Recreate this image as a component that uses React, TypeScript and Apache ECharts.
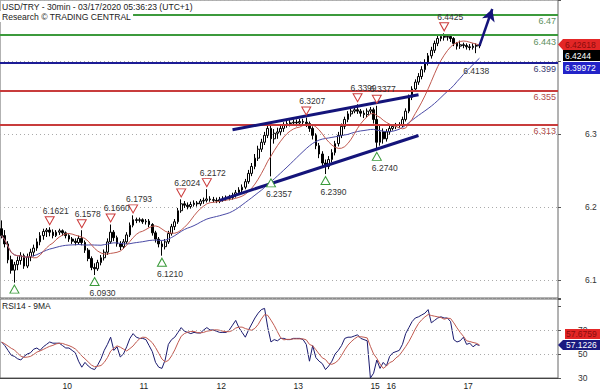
import { useEffect, useRef } from 'react';
import * as echarts from 'echarts';

const FONT = '"Liberation Sans", Arial, sans-serif';

// time axis: hourly slots
const dayLabels = ['9', '10', '11', '12', '13', '15', '16', '17'];
const dayStartHours = [5, 0, 0, 0, 0, 19, 0, 0];
const dayBarCounts = [19, 24, 24, 24, 24, 5, 24, 6];
const futureSlots = 24;

// [open, close, low, high]
const candles: number[][] = [
  [6.160, 6.150, 6.146, 6.172], [6.150, 6.138, 6.133, 6.158], [6.138, 6.115, 6.110, 6.142], [6.115, 6.100, 6.095, 6.121],
  [6.100, 6.108, 6.082, 6.112], [6.108, 6.114, 6.100, 6.120], [6.114, 6.121, 6.108, 6.126], [6.121, 6.106, 6.102, 6.124],
  [6.106, 6.119, 6.103, 6.124], [6.119, 6.126, 6.113, 6.131], [6.126, 6.132, 6.120, 6.137], [6.132, 6.141, 6.128, 6.146],
  [6.141, 6.150, 6.136, 6.155], [6.150, 6.156, 6.144, 6.160], [6.156, 6.158, 6.148, 6.161], [6.158, 6.155, 6.149, 6.1621],
  [6.155, 6.150, 6.146, 6.159], [6.150, 6.155, 6.148, 6.158], [6.155, 6.157, 6.151, 6.160], [6.157, 6.154, 6.150, 6.159],
  [6.154, 6.150, 6.146, 6.156], [6.150, 6.145, 6.141, 6.152], [6.145, 6.142, 6.138, 6.148], [6.142, 6.140, 6.136, 6.146],
  [6.140, 6.146, 6.137, 6.150], [6.146, 6.140, 6.136, 6.1578], [6.140, 6.129, 6.125, 6.143], [6.129, 6.117, 6.113, 6.132],
  [6.117, 6.104, 6.100, 6.120], [6.104, 6.102, 6.093, 6.110], [6.102, 6.111, 6.099, 6.115], [6.111, 6.118, 6.107, 6.122],
  [6.118, 6.126, 6.114, 6.130], [6.126, 6.141, 6.122, 6.146], [6.141, 6.155, 6.138, 6.166], [6.155, 6.147, 6.142, 6.158],
  [6.147, 6.138, 6.134, 6.150], [6.138, 6.134, 6.129, 6.142], [6.134, 6.141, 6.131, 6.145], [6.141, 6.151, 6.138, 6.155],
  [6.151, 6.165, 6.148, 6.169], [6.165, 6.173, 6.162, 6.1793], [6.173, 6.172, 6.168, 6.176], [6.172, 6.173, 6.169, 6.176],
  [6.173, 6.170, 6.167, 6.175], [6.170, 6.171, 6.166, 6.174], [6.171, 6.166, 6.162, 6.174], [6.166, 6.154, 6.150, 6.168],
  [6.154, 6.145, 6.140, 6.157], [6.145, 6.138, 6.133, 6.148], [6.138, 6.134, 6.121, 6.142], [6.134, 6.141, 6.130, 6.145],
  [6.141, 6.153, 6.138, 6.157], [6.153, 6.163, 6.150, 6.167], [6.163, 6.170, 6.158, 6.174], [6.170, 6.186, 6.167, 6.190],
  [6.186, 6.196, 6.183, 6.2024], [6.196, 6.194, 6.190, 6.200], [6.194, 6.192, 6.188, 6.198], [6.192, 6.195, 6.189, 6.199],
  [6.195, 6.197, 6.192, 6.201], [6.197, 6.196, 6.192, 6.200], [6.196, 6.200, 6.193, 6.203], [6.200, 6.201, 6.196, 6.205],
  [6.201, 6.203, 6.198, 6.2172], [6.203, 6.202, 6.199, 6.207], [6.202, 6.201, 6.198, 6.206], [6.201, 6.200, 6.197, 6.205],
  [6.200, 6.202, 6.197, 6.206], [6.202, 6.203, 6.199, 6.207], [6.203, 6.204, 6.200, 6.208], [6.204, 6.205, 6.201, 6.209],
  [6.205, 6.208, 6.202, 6.212], [6.208, 6.212, 6.205, 6.216], [6.212, 6.216, 6.209, 6.220], [6.216, 6.220, 6.213, 6.224],
  [6.220, 6.228, 6.217, 6.232], [6.228, 6.240, 6.225, 6.245], [6.240, 6.250, 6.236, 6.255], [6.250, 6.262, 6.246, 6.268],
  [6.262, 6.275, 6.258, 6.280], [6.275, 6.285, 6.271, 6.290], [6.285, 6.295, 6.281, 6.300], [6.295, 6.305, 6.291, 6.310],
  [6.305, 6.290, 6.2357, 6.312], [6.290, 6.298, 6.283, 6.304], [6.298, 6.300, 6.290, 6.306], [6.300, 6.305, 6.295, 6.310],
  [6.305, 6.310, 6.300, 6.314], [6.310, 6.312, 6.306, 6.316], [6.312, 6.313, 6.308, 6.317], [6.313, 6.314, 6.309, 6.318],
  [6.314, 6.313, 6.308, 6.318], [6.313, 6.315, 6.309, 6.319], [6.315, 6.314, 6.309, 6.319], [6.314, 6.312, 6.307, 6.3207],
  [6.312, 6.305, 6.300, 6.315], [6.305, 6.295, 6.289, 6.308], [6.295, 6.280, 6.275, 6.298], [6.280, 6.268, 6.262, 6.284],
  [6.268, 6.255, 6.248, 6.272], [6.255, 6.250, 6.239, 6.260], [6.250, 6.260, 6.246, 6.265], [6.260, 6.270, 6.256, 6.275],
  [6.270, 6.283, 6.266, 6.287], [6.283, 6.295, 6.279, 6.300], [6.295, 6.308, 6.291, 6.312], [6.308, 6.318, 6.304, 6.322],
  [6.318, 6.326, 6.314, 6.330], [6.326, 6.330, 6.322, 6.334], [6.330, 6.332, 6.327, 6.336], [6.332, 6.330, 6.326, 6.3399],
  [6.330, 6.327, 6.322, 6.333], [6.327, 6.325, 6.320, 6.331], [6.325, 6.330, 6.321, 6.334], [6.330, 6.332, 6.326, 6.336],
  [6.332, 6.318, 6.312, 6.335], [6.318, 6.285, 6.274, 6.3377], [6.285, 6.300, 6.280, 6.310], [6.300, 6.290, 6.283, 6.305],
  [6.290, 6.300, 6.286, 6.304], [6.300, 6.305, 6.296, 6.309], [6.305, 6.308, 6.302, 6.311], [6.308, 6.310, 6.304, 6.313],
  [6.310, 6.310, 6.306, 6.314], [6.310, 6.318, 6.307, 6.322], [6.318, 6.330, 6.315, 6.334], [6.330, 6.350, 6.327, 6.354],
  [6.350, 6.362, 6.346, 6.366], [6.362, 6.372, 6.358, 6.376], [6.372, 6.380, 6.368, 6.385], [6.380, 6.390, 6.376, 6.395],
  [6.390, 6.400, 6.386, 6.405], [6.400, 6.410, 6.396, 6.414], [6.410, 6.418, 6.406, 6.423], [6.418, 6.428, 6.414, 6.432],
  [6.428, 6.435, 6.424, 6.439], [6.435, 6.438, 6.431, 6.441], [6.438, 6.437, 6.432, 6.4425], [6.437, 6.438, 6.432, 6.441],
  [6.438, 6.435, 6.430, 6.440], [6.435, 6.428, 6.424, 6.437], [6.428, 6.424, 6.419, 6.430], [6.424, 6.426, 6.420, 6.432],
  [6.426, 6.425, 6.421, 6.429], [6.425, 6.423, 6.419, 6.428], [6.423, 6.422, 6.418, 6.427], [6.422, 6.424, 6.419, 6.428],
  [6.424, 6.425, 6.4138, 6.428], [6.425, 6.4244, 6.421, 6.427],
];

const rsi14: number[] = [
  60, 57, 53, 49, 48, 46, 45, 48, 50, 51, 54, 55, 53, 56, 58, 60, 59, 59, 59, 57,
  55, 55, 53, 51, 44, 39, 43, 40, 38, 37, 41, 46, 53, 58, 64, 53, 56, 47.5, 50, 56,
  63, 67, 64, 63, 63, 62, 57, 52, 43, 39, 38, 45, 58, 62, 64, 68, 72, 69, 68, 67,
  68, 67.5, 67.5, 70, 72, 70, 70, 69, 68, 68, 68, 70, 74, 78, 72, 68, 64, 70, 75, 80,
  84, 87, 88, 72, 60, 62, 61, 63, 63, 62, 62, 63, 63, 63, 62, 58, 44, 57, 47, 44,
  42, 37, 40, 44, 50, 53, 57, 63, 64, 64, 65, 66, 63, 62, 61, 30, 34, 45, 38, 43,
  40, 48, 51, 52, 53, 58, 67, 72, 77, 80, 81, 82.5, 84, 87, 76, 78, 80, 81, 80, 80,
  77, 62, 60, 61, 64, 58, 59, 56, 58, 57.1226,
];

const levelValues = [6.47, 6.443, 6.399, 6.355, 6.313];
const levelLabels = ['6.47', '6.443', '6.399', '6.355', '6.313'];
const highMarks = [15, 25, 34, 41, 56, 64, 95, 111, 117, 138];
const lowMarks = [4, 29, 50, 84, 101, 117];
const lowMarksNoLabel = [4];
const lowLabelOnly = [148];
const upperTrend = [[72, 6.3031], [130, 6.3538]];
const lowerTrend = [[68, 6.2010], [130, 6.2947]];
const arrowTarget = [153, 6.4777];
const fastMaLast = 6.42618;
const slowMaLast = 6.39972;
const rsiMaLast = 57.6759;
const FAST_MA = 10;
const SLOW_MA = 25;
const RSI_MA = 5;

function sma(arr: number[], n: number) {
  return arr.map((_, i) => {
    const s = Math.max(0, i - n + 1);
    let t = 0;
    for (let k = s; k <= i; k++) t += arr[k];
    return +(t / (i - s + 1)).toFixed(5);
  });
}

const categories: string[] = [];
const dayStarts = new Set<number>();
dayLabels.forEach((d, di) => {
  if (di > 0) dayStarts.add(categories.length);
  for (let h = 0; h < dayBarCounts[di]; h++) categories.push(`${d} ${dayStartHours[di] + h}:00`);
});
for (let k = 0; k < futureSlots; k++) categories.push(`f${k}`);

const DOWN = 'path://M0,0L10,0L5,9Z';
const UP = 'path://M5,0L10,9L0,9Z';

export default function App() {
  const ref = useRef<HTMLDivElement>(null);
  useEffect(() => {
    if (!ref.current) return;
    const chart = echarts.init(ref.current, null, { renderer: 'svg' });
    const closes = candles.map((c) => c[1]);
    const levelColors = ['#3c9a3c', '#3c9a3c', '#1c1c96', '#c83c3c', '#c83c3c'];
    const levelText = ['#5d8f5d', '#5d8f5d', '#3c3c70', '#b04c4c', '#b04c4c'];
    const trendStyle = { color: '#14147a', width: 3, type: 'solid' };
    const labelCommon = { fontSize: 8.5, color: '#333', fontFamily: FONT };

    const markLines: any[] = levelValues.map((v, i) => ({
      yAxis: v,
      lineStyle: { color: levelColors[i], width: 2, type: 'solid' },
      label: {
        show: true, position: 'insideEndBottom', formatter: levelLabels[i],
        color: levelText[i], fontSize: 9, fontFamily: FONT, distance: [2, 2],
      },
    }));
    [upperTrend, lowerTrend].forEach((t) => {
      markLines.push([
        { coord: t[0], symbol: 'none', lineStyle: trendStyle, label: { show: false } },
        { coord: t[1], symbol: 'none', lineStyle: trendStyle, label: { show: false } },
      ]);
    });
    const last = candles.length - 1;
    const arrowStyle = { color: '#14147a', width: 2.5, type: 'solid', curveness: -0.3 };
    markLines.push([
      { coord: [last, candles[last][1]], symbol: 'none', lineStyle: arrowStyle, label: { show: false } },
      { coord: arrowTarget, symbol: 'arrow', symbolSize: [10, 12], lineStyle: arrowStyle, label: { show: false } },
    ]);

    const markPoints: any[] = [];
    highMarks.forEach((i) => {
      markPoints.push({
        coord: [i, candles[i][3]], symbol: DOWN, symbolSize: [9, 8], symbolOffset: [0, -6.5],
        itemStyle: { color: '#fff', borderColor: '#cc3c3c', borderWidth: 1 },
        label: { show: true, position: 'top', distance: 1, offset: [6, 0], formatter: candles[i][3].toFixed(4), ...labelCommon },
      });
    });
    lowMarks.forEach((i) => {
      markPoints.push({
        coord: [i, candles[i][2]], symbol: UP, symbolSize: [9, 8], symbolOffset: [0, 6.5],
        itemStyle: { color: '#fff', borderColor: '#3a9a3a', borderWidth: 1 },
        label: { show: !lowMarksNoLabel.includes(i), position: 'bottom', distance: 2.5, offset: [8, 0], formatter: candles[i][2].toFixed(4), ...labelCommon },
      });
    });
    lowLabelOnly.forEach((i) => {
      markPoints.push({
        coord: [i, candles[i][2]], symbol: UP, symbolSize: [9, 8], symbolOffset: [0, 6.5],
        itemStyle: { color: 'rgba(0,0,0,0)', borderColor: 'rgba(0,0,0,0)', borderWidth: 0 },
        label: { show: true, position: 'bottom', distance: 2.5, offset: [0, 0], formatter: candles[i][2].toFixed(4), ...labelCommon },
      });
    });

    const mainTicks = [6.1, 6.2, 6.3];
    const option: any = {
      animation: false,
      backgroundColor: '#fff',
      textStyle: { fontFamily: FONT },
      grid: [
        { left: -1, top: -1, width: 559, height: 299, show: true, borderColor: '#666', borderWidth: 1 },
        { left: -1, top: 299, width: 559, height: 79, show: true, borderColor: '#666', borderWidth: 1 },
      ],
      xAxis: [
        { type: 'category', gridIndex: 0, data: categories, show: false },
        {
          type: 'category', gridIndex: 1, data: categories,
          axisLine: { lineStyle: { color: '#444' } },
          axisTick: { interval: (i: number) => dayStarts.has(i), length: 6, lineStyle: { color: '#333' } },
          axisLabel: {
            interval: (i: number) => dayStarts.has(i), formatter: (v: string) => v.split(' ')[0],
            align: 'left', margin: 3, fontSize: 8.5, color: '#222', fontFamily: FONT,
          },
          splitLine: { show: false },
        },
      ],
      yAxis: [
        { type: 'value', gridIndex: 0, min: 6.0598, max: 6.4907, show: false },
        {
          type: 'value', gridIndex: 0, position: 'right', min: 6.0755, max: 6.4831, splitNumber: 4,
          axisLine: { show: false },
          axisTick: { show: true, length: 3, lineStyle: { color: '#555' } },
          axisLabel: {
            formatter: (v: number) => (mainTicks.some((t) => Math.abs(t - v) < 1e-6) ? v.toFixed(1) : ''),
            margin: 27, fontSize: 8.5, color: '#333', fontFamily: FONT,
          },
          splitLine: { show: true, lineStyle: { type: [1, 3], color: '#aaa', width: 1 } },
        },
        {
          type: 'value', gridIndex: 1, position: 'right', min: 30, max: 95.83, interval: 20,
          axisLine: { show: false },
          axisTick: { show: true, length: 3, lineStyle: { color: '#555' } },
          axisLabel: {
            formatter: (v: number) => (v === 30 || v === 50 || v === 70 ? String(v) : ''),
            margin: 20, fontSize: 8.5, color: '#333', fontFamily: FONT,
          },
          splitLine: { show: false },
        },
      ],
      series: [
        {
          type: 'line', xAxisIndex: 0, yAxisIndex: 0, data: sma(closes, SLOW_MA), symbol: 'none',
          lineStyle: { color: '#4a4aa6', width: 1 }, silent: true,
        },
        {
          type: 'line', xAxisIndex: 0, yAxisIndex: 0, data: sma(closes, FAST_MA), symbol: 'none',
          lineStyle: { color: '#c05a50', width: 1 }, silent: true,
        },
        {
          type: 'candlestick', xAxisIndex: 0, yAxisIndex: 0, data: candles, barWidth: 2.2,
          itemStyle: { color: '#fff', color0: '#000', borderColor: '#000', borderColor0: '#000', borderWidth: 1 },
          markLine: { silent: true, symbol: ['none', 'none'], data: markLines, animation: false },
          markPoint: { silent: true, data: markPoints, animation: false },
        },
        {
          type: 'line', xAxisIndex: 1, yAxisIndex: 2, data: rsi14, symbol: 'none',
          lineStyle: { color: '#1a1a6e', width: 1 }, silent: true,
          markLine: {
            silent: true, symbol: ['none', 'none'], label: { show: false },
            lineStyle: { type: [1, 3], color: '#aaa', width: 1 },
            data: [{ yAxis: 50 }, { yAxis: 70 }],
          },
        },
        {
          type: 'line', xAxisIndex: 1, yAxisIndex: 2, data: sma(rsi14, RSI_MA), symbol: 'none',
          lineStyle: { color: '#c05a50', width: 1 }, silent: true,
        },
      ],
    };
    chart.setOption(option);

    const py = (v: number) => chart.convertToPixel({ yAxisIndex: 0 } as any, v) as unknown as number;
    const ry = (v: number) => chart.convertToPixel({ yAxisIndex: 2 } as any, v) as unknown as number;
    const f = `8.5px ${FONT}`;
    const txt = (x: number, y: number, text: string, fill: string) => ({
      type: 'text', x, y, z: 100,
      style: { text, fill, font: f, align: 'left', verticalAlign: 'middle', textAlign: 'left', textVerticalAlign: 'middle' },
    });
    const redTop = Math.round(py(fastMaLast) - 5.5);
    const blackTop = redTop + 11;
    const blueTop = blackTop + 12;
    const rsiBlueTop = Math.round(ry(rsi14[rsi14.length - 1]) - 5);
    const rsiRedTop = rsiBlueTop - 11;
    const graphic: any[] = [
      { type: 'text', x: 0, y: 1, z: 100, style: { text: 'USD/TRY - 30min - 03/17/2020 05:36:23 (UTC+1)', fill: '#222', font: `8.6px ${FONT}`, padding: [1, 2, 1, 2] } },
      { type: 'text', x: 0, y: 11, z: 100, style: { text: 'Research © TRADING CENTRAL', fill: '#222', font: `8.6px ${FONT}`, backgroundColor: '#fff', padding: [1, 2, 1, 2] } },
      { type: 'text', x: 2, y: 301, z: 100, style: { text: 'RSI14 - 9MA', fill: '#222', font: `8.5px ${FONT}` } },
      { type: 'polygon', z: 99, shape: { points: [[558, redTop + 5.5], [563, redTop], [600, redTop], [600, redTop + 11], [563, redTop + 11]] }, style: { fill: '#e32626' } },
      txt(565, redTop + 5.5, fastMaLast.toFixed(5), '#8a0c0c'),
      { type: 'rect', z: 99, shape: { x: 563, y: blackTop, width: 37, height: 11 }, style: { fill: '#000' } },
      txt(565, blackTop + 5.5, candles[last][1].toFixed(4), '#fff'),
      { type: 'rect', z: 99, shape: { x: 563, y: blueTop, width: 37, height: 12 }, style: { fill: '#2323c8' } },
      txt(565, blueTop + 6, slowMaLast.toFixed(5), '#fff'),
      { type: 'rect', z: 99, shape: { x: 565, y: rsiRedTop, width: 35, height: 10 }, style: { fill: '#e32626' } },
      txt(566, rsiRedTop + 5, rsiMaLast.toFixed(4), '#8a0c0c'),
      { type: 'polygon', z: 99, shape: { points: [[558, rsiBlueTop + 5], [563, rsiBlueTop], [600, rsiBlueTop], [600, rsiBlueTop + 10], [563, rsiBlueTop + 10]] }, style: { fill: '#1a1a80' } },
      txt(566, rsiBlueTop + 5, rsi14[rsi14.length - 1].toFixed(4), '#fff'),
    ];
    chart.setOption({ graphic });
    return () => chart.dispose();
  }, []);
  return <div ref={ref} style={{ position: 'absolute', left: 0, top: 0, width: 600, height: 392 }} />;
}
